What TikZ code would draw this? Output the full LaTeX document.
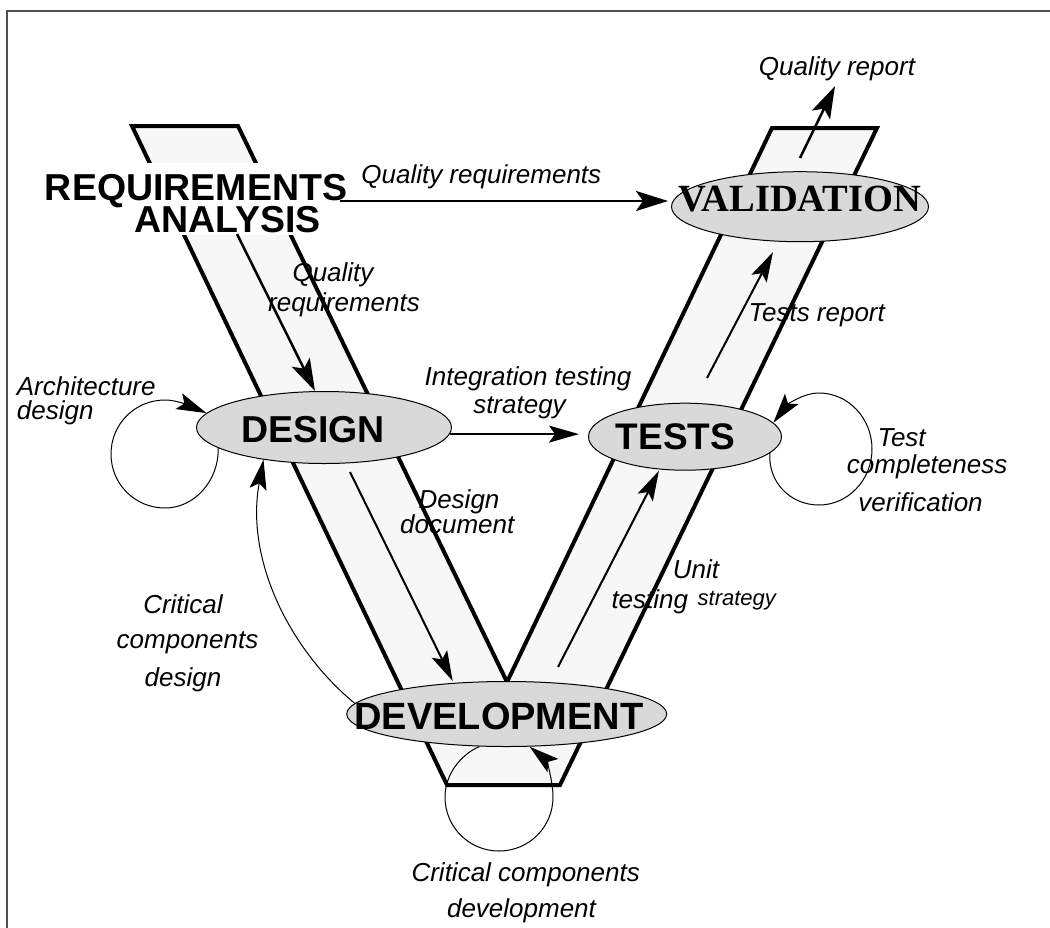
\documentclass[tikz,border=0pt]{standalone}
\usepackage{fontspec}
\setmainfont{Liberation Sans}
\newfontfamily\serifbold{Liberation Serif}
\usetikzlibrary{shapes.geometric,arrows.meta}
\definecolor{vfill}{HTML}{F7F7F7}
\definecolor{efill}{HTML}{D9D9D9}
\definecolor{framec}{HTML}{505050}
\begin{document}
\begin{tikzpicture}[x=1pt,y=-1pt,
  stage/.style={ellipse, draw=black, line width=1pt, fill=efill, inner sep=0pt},
  big/.style={font=\fontsize{37.5}{40}\selectfont\bfseries, inner sep=0pt},
  lbl/.style={font=\fontsize{26}{30}\selectfont\itshape, inner sep=0pt, anchor=base},
  lbll/.style={lbl, anchor=base west},
  head/.style={-{Stealth[length=30pt,width=17pt,inset=6pt]}},
  bighead/.style={-{Stealth[length=32pt,width=20pt,inset=7pt]}},
  arrA/.style={bighead, line width=2.5pt},
  arrB/.style={head, line width=2pt},
  arrC/.style={head, line width=1.5pt},
  arrD/.style={head, line width=1pt},
]
\useasboundingbox (0,0) rectangle (1050,927);
% frame
\draw[framec, line width=2pt] (1060,11) -- (7,11) -- (7,940);
% V band
\draw[line width=4pt, fill=vfill, line join=miter] (132,126) -- (238,126) -- (507,682) -- (772,128) -- (877,128) -- (560,785) -- (447,785) -- cycle;
% requirements analysis
\node[big, fill=white, text height=37pt, text depth=5pt, inner xsep=2pt, anchor=base] (req) at (196,200) {REQUIREMENTS};
\node[big, fill=white, text height=28pt, text depth=3pt, inner xsep=2pt, anchor=base] (ana) at (227.5,232) {ANALYSIS};
% stages
\node[stage, minimum width=257pt, minimum height=70pt] (val) at (800,206.7) {};
\node[font=\serifbold\bfseries\fontsize{38.5}{40}\selectfont, inner sep=0pt] (valtxt) at ([yshift=8pt]val.center) {VALIDATION};
\node[stage, minimum width=255pt, minimum height=72pt] (design) at (324,427.5) {};
\node[big] (designtxt) at ([xshift=-11pt,yshift=-2.5pt]design.center) {DESIGN};
\node[stage, minimum width=193pt, minimum height=67pt] (tests) at (685,436.7) {};
\node[big, font=\fontsize{37}{40}\selectfont\bfseries] (teststxt) at ([xshift=-9.6pt]tests.center) {TESTS};
\node[stage, minimum width=320pt, minimum height=65pt] (dev) at (506.7,714) {};
\node[big, font=\fontsize{38}{40}\selectfont\bfseries] (devtxt) at ([xshift=-7.7pt,yshift=-2pt]dev.center) {DEVELOPMENT};
% labels
\node[lbl] (lqreq) at (481.3,183) {Quality requirements};
\node[lbl] (lqrep) at (837,75) {Quality report};
\node[lbl] (ltrep) at (816.7,321.7) {Tests report};
\node[lbl] (lqr1) at (333,281.7) {Quality};
\node[lbl] (lqr2) at (344,311.7) {requirements};
\node[lbll] (larch1) at (16.7,395.5) {Architecture};
\node[lbll] (larch2) at (16.7,419) {design};
\node[lbl] (lint1) at (528,385) {Integration testing};
\node[lbl] (lint2) at (519.5,413.3) {strategy};
\node[lbll] (ltc1) at (877.3,446.7) {Test};
\node[lbll] (ltc2) at (846.7,473.3) {completeness};
\node[lbll] (ltc3) at (858.2,511.7) {verification};
\node[lbll] (ldd1) at (418.3,508.3) {Design};
\node[lbll] (ldd2) at (400,533.3) {document};
\node[lbll] (lut1) at (672.6,578.3) {Unit};
\node[lbll] (lut2) at (611.3,608.3) {testing};
\node[lbll, font=\fontsize{22}{26}\selectfont\itshape] (lut3) at (697.5,605) {strategy};
\node[lbl] (lcd1) at (183,613.3) {Critical};
\node[lbl] (lcd2) at (187.5,648.3) {components};
\node[lbl] (lcd3) at (183,686.7) {design};
\node[lbl] (lcc1) at (525.7,881.7) {Critical components};
\node[lbl] (lcc2) at (521.5,917) {development};
% connectors
\coordinate (qh) at (340,201);
\draw[arrA, shorten >=3pt] (qh) -- (qh -| val.west);
\coordinate (qd) at (237,234);
\draw[arrA] (qd) -- ([xshift=-9pt]design.north);
\coordinate (qr) at (800,158);
\draw[arrA] (qr) -- ([xshift=-2pt,yshift=-5.5pt]lqrep.south);
\coordinate (tr1) at (707,378);
\coordinate (tr2) at (773,252);
\draw[arrB] (tr1) -- (tr2);
\coordinate (dd) at (350,472);
\draw[arrB] (dd) -- ([xshift=-54pt]dev.north);
\coordinate (ut) at (558,667);
\draw[arrB] (ut) -- ([xshift=-26pt]tests.south);
\draw[arrC, shorten >=9pt] (design.357.5) -- (design.357.5 -| tests.west);
% loops
\draw[arrD] (design.191) .. controls (219,480) and (195,508) .. (165,508) .. controls (135,508) and (111,484) .. (111,454) .. controls (111,424) and (135,400) .. (165,400) .. controls (177,400) and (190,406) .. (design.173);
\draw[arrD] (tests.349) .. controls (768,482) and (790,505) .. (819,505) .. controls (848,505) and (872,480) .. (872,449) .. controls (872,418) and (848,393) .. (819,393) .. controls (803,393) and (787,405) .. (tests.9);
\draw[arrD] (dev.230) .. controls (460,755) and (445,775) .. (445,797) .. controls (445,827) and (469,851) .. (499,851) .. controls (529,851) and (553,827) .. (553,797) .. controls (553,780) and (546,760) .. (dev.305);
\draw[arrD] (dev.176) .. controls (290,650) and (245,560) .. (design.208);
\end{tikzpicture}
\end{document}
